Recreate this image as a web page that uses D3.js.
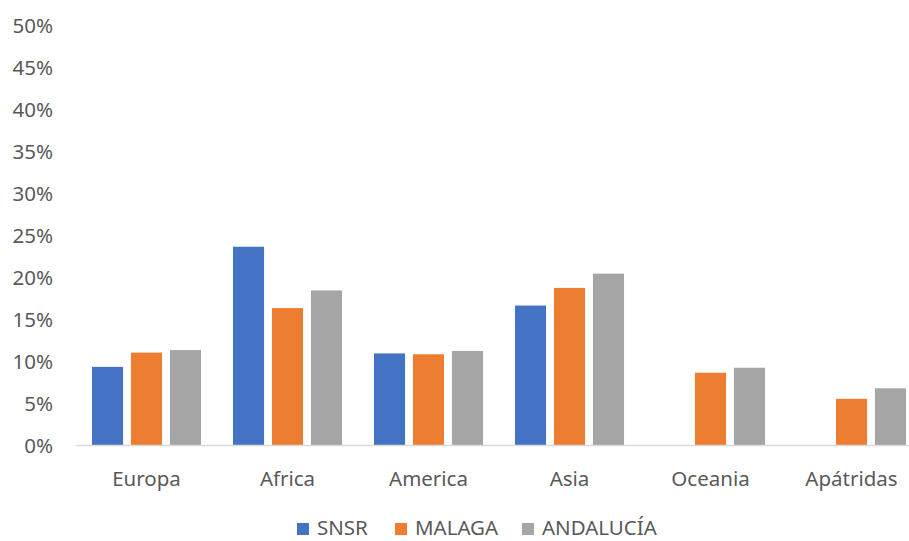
<!DOCTYPE html>
<html>
<head>
<meta charset="utf-8">
<script src="https://cdn.jsdelivr.net/npm/d3@7"></script>
<style>
  html, body { margin: 0; padding: 0; background: #fff; }
  svg { display: block; }
  text { font-family: "Noto Sans", "Open Sans", sans-serif; fill: #595959; }
</style>
</head>
<body>
<svg id="chart" width="909" height="541"></svg>
<script>
const categories = ["Europa", "Africa", "America", "Asia", "Oceania", "Apátridas"];
const seriesNames = ["SNSR", "MALAGA", "ANDALUCÍA"];
const snsr = [9.3, 23.6, 10.9, 16.6, null, null];
const malaga = [11.0, 16.3, 10.8, 18.7, 8.6, 5.5];
const andalucia = [11.3, 18.4, 11.2, 20.4, 9.2, 6.75];
const yTicks = [0, 5, 10, 15, 20, 25, 30, 35, 40, 45, 50];
const colors = ["#4472C4", "#ED7D31", "#A5A5A5"];

const seriesValues = [snsr, malaga, andalucia];
const svg = d3.select("#chart");
const FS = 20.5;

const x = d3.scaleBand().domain(categories).range([76, 922]).paddingInner(0).paddingOuter(0);
const xInner = d3.scaleBand().domain(seriesNames).range([0, x.bandwidth()]).paddingInner(8/39.5).paddingOuter(0.41);
const y = d3.scaleLinear().domain([0, 50]).range([445, 25]);

// y axis labels
const yAxis = d3.axisLeft(y).tickValues(yTicks).tickFormat(d => d + "%").tickSize(0).tickPadding(0);
const ya = svg.append("g").attr("transform", "translate(53,0)").call(yAxis);
ya.select(".domain").remove();
ya.selectAll("text").attr("font-size", FS).attr("fill", "#595959").attr("dy", "0.36em")
  .style("font-family", '"Noto Sans", sans-serif');

// bars
seriesNames.forEach((s, i) => {
  svg.append("g").selectAll("rect")
    .data(categories.map((c, j) => ({ c, v: seriesValues[i][j] })).filter(d => d.v != null))
    .join("rect")
    .attr("x", d => x(d.c) + xInner(s))
    .attr("width", xInner.bandwidth())
    .attr("y", d => y(d.v))
    .attr("height", d => y(0) - y(d.v))
    .attr("fill", colors[i]);
});

// x axis
const xAxis = d3.axisBottom(x).tickSize(0).tickPadding(0);
const xa = svg.append("g").attr("transform", "translate(0," + y(0) + ")").call(xAxis);
xa.select(".domain").attr("stroke", "#D9D9D9").attr("stroke-width", 1.5);
xa.selectAll("text").attr("font-size", FS).attr("dy", "2.0em").attr("fill", "#595959")
  .style("font-family", '"Noto Sans", sans-serif');

// legend
const legendX = [297, 395, 522];
const lg = svg.append("g");
seriesNames.forEach((s, i) => {
  lg.append("rect").attr("x", legendX[i]).attr("y", 523).attr("width", 12).attr("height", 12).attr("fill", colors[i]);
  lg.append("text").attr("x", legendX[i] + 20).attr("y", 535).attr("font-size", FS).text(s);
});
</script>
</body>
</html>
